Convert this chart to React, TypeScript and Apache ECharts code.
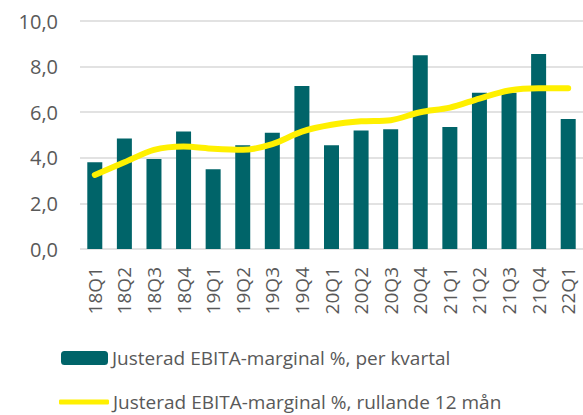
import React, { useEffect, useRef } from "react";
import * as echarts from "echarts";

const categories = ["18Q1","18Q2","18Q3","18Q4","19Q1","19Q2","19Q3","19Q4","20Q1","20Q2","20Q3","20Q4","21Q1","21Q2","21Q3","21Q4","22Q1"];
const quarterly = [3.8, 4.85, 3.95, 5.15, 3.5, 4.55, 5.1, 7.15, 4.55, 5.2, 5.25, 8.5, 5.35, 6.85, 6.85, 8.55, 5.7];
const rolling = [3.25, 3.8, 4.35, 4.5, 4.4, 4.35, 4.6, 5.15, 5.45, 5.6, 5.65, 6.0, 6.2, 6.6, 6.95, 7.05, 7.05];
const barName = "Justerad EBITA-marginal %, per kvartal";
const lineName = "Justerad EBITA-marginal %, rullande 12 mån";

const FONT = "'Open Sans', sans-serif";

export default function App() {
  const ref = useRef<HTMLDivElement>(null);
  useEffect(() => {
    if (!ref.current) return;
    const chart = echarts.init(ref.current, undefined, { renderer: "svg" });
    chart.setOption({
      animation: false,
      grid: { left: 80, right: -1, top: 21, bottom: 166, containLabel: false },
      legend: [
        {
          data: [barName],
          orient: "vertical",
          left: 61,
          top: 347,
          padding: 0,
          itemWidth: 47,
          itemHeight: 14,
          itemGap: 0,
          textStyle: { color: "#595959", fontSize: 19, fontFamily: FONT, padding: [0, 0, 0, -1], lineHeight: 22 },
        },
        {
          data: [{ name: lineName, icon: "roundRect" }],
          orient: "vertical",
          left: 59,
          top: 391,
          padding: 0,
          itemWidth: 50,
          itemHeight: 5,
          itemGap: 0,
          itemStyle: { color: "#FFF000" },
          textStyle: { color: "#595959", fontSize: 19, fontFamily: FONT, padding: [0, 0, 0, -1], lineHeight: 22 },
        },
      ],
      xAxis: {
        type: "category",
        data: categories,
        axisLine: { show: false },
        axisTick: { show: false },
        axisLabel: { rotate: 90, color: "#595959", fontSize: 19, fontFamily: FONT, margin: 18 },
      },
      yAxis: {
        type: "value",
        min: 0,
        max: 10,
        interval: 2,
        axisLabel: {
          color: "#595959",
          fontSize: 20,
          fontFamily: FONT,
          margin: 22,
          formatter: (v: number) => v.toFixed(1).replace(".", ","),
        },
        splitLine: { lineStyle: { color: "#d9d9d9", width: 1.5 } },
      },
      series: [
        {
          name: barName,
          type: "bar",
          data: quarterly,
          barWidth: 15,
          itemStyle: { color: "#006469" },
        },
        {
          name: lineName,
          type: "line",
          data: rolling,
          smooth: 0.3,
          symbol: "none",
          lineStyle: { color: "#FFF000", width: 6, cap: "round" },
          itemStyle: { color: "#FFF000" },
        },
      ],
    });
    return () => chart.dispose();
  }, []);
  return <div ref={ref} style={{ width: 583, height: 415, position: "absolute", left: 0, top: 0 }} />;
}
